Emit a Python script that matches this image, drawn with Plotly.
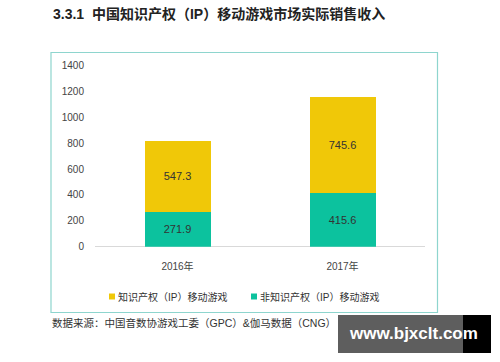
import plotly.graph_objects as go

W, H = 500, 362

categories = ["2016年", "2017年"]
non_ip_values = [271.9, 415.6]
ip_values = [547.3, 745.6]
series_names = ["非知识产权（IP）移动游戏", "知识产权（IP）移动游戏"]
y_ticks = [0, 200, 400, 600, 800, 1000, 1200, 1400]

title_text = "3.3.1  中国知识产权（IP）移动游戏市场实际销售收入"
source_text = "数据来源：中国音数协游戏工委（GPC）&伽马数据（CNG）"
watermark_text = "www.bjxclt.com"

FONT = "Liberation Sans, Arial, Noto Sans CJK SC, sans-serif"
GREEN = "#0CC29E"
YELLOW = "#F0C808"

def px(x):
    return x / W

def py(y):
    return 1 - y / H

fig = go.Figure()
fig.add_trace(go.Bar(
    x=categories, y=non_ip_values, name=series_names[0],
    marker=dict(color=GREEN, line=dict(width=0)),
    texttemplate="%{y:.1f}", textposition="inside", insidetextanchor="middle",
    textfont=dict(size=11, color="#333333", family=FONT),
    showlegend=False,
))
fig.add_trace(go.Bar(
    x=categories, y=ip_values, name=series_names[1],
    marker=dict(color=YELLOW, line=dict(width=0)),
    texttemplate="%{y:.1f}", textposition="inside", insidetextanchor="middle",
    textfont=dict(size=11, color="#333333", family=FONT),
    showlegend=False,
))

# manual legend (small square swatches like the reference)
legend_items = [(series_names[1], YELLOW, 109), (series_names[0], GREEN, 251)]
legend_shapes = []
legend_annos = []
for name, color, x0 in legend_items:
    legend_shapes.append(dict(type="rect", xref="paper", yref="paper",
                              x0=px(x0), x1=px(x0 + 6), y0=py(299.5), y1=py(293.5),
                              line=dict(width=0), fillcolor=color))
    legend_annos.append(dict(text=name, xref="paper", yref="paper",
                             x=px(x0 + 7), y=py(297), xanchor="left", yanchor="middle",
                             showarrow=False,
                             font=dict(size=10, color="#333333", family=FONT)))

fig.update_layout(
    width=W, height=H,
    barmode="stack", bargap=0.6,
    paper_bgcolor="white", plot_bgcolor="white",
    margin=dict(l=0, r=0, t=0, b=0, autoexpand=False),
    font=dict(family=FONT, size=10, color="#333333"),
    showlegend=False,
    xaxis=dict(
        domain=[px(95), px(425)],
        showgrid=False, showline=False, zeroline=False,
        ticks="", ticklabelstandoff=12,
        tickfont=dict(size=10, color="#444444"),
    ),
    yaxis=dict(
        domain=[py(246.7), py(65.7)],
        range=[0, 1400], tickvals=y_ticks,
        showgrid=False, showline=False,
        zeroline=True, zerolinecolor="#D9D9D9", zerolinewidth=1,
        ticks="", ticklabelstandoff=10,
        tickfont=dict(size=10, color="#444444"),
    ),
    shapes=[
        dict(type="rect", xref="paper", yref="paper",
             x0=px(51), x1=px(437.5), y0=py(312.5), y1=py(52.5),
             line=dict(color="#8ED5CE", width=1.2), fillcolor="rgba(0,0,0,0)",
             layer="below"),
        dict(type="rect", xref="paper", yref="paper",
             x0=px(338), x1=px(463), y0=py(353), y1=py(315),
             line=dict(width=0), fillcolor="#5E5E5E"),
        dict(type="rect", xref="paper", yref="paper",
             x0=px(463), x1=px(491), y0=py(353), y1=py(315),
             line=dict(width=0), fillcolor="#000000"),
    ] + legend_shapes,
    annotations=[
        dict(text="<b>" + title_text + "</b>", xref="paper", yref="paper",
             x=px(51), y=py(14), xanchor="left", yanchor="middle", showarrow=False,
             font=dict(size=14, color="#222222", family=FONT)),
        dict(text=source_text, xref="paper", yref="paper",
             x=px(50), y=py(323), xanchor="left", yanchor="middle", showarrow=False,
             font=dict(size=10.5, color="#333333", family=FONT)),
        dict(text="<b>" + watermark_text + "</b>", xref="paper", yref="paper",
             x=px(413), y=py(333), xanchor="center", yanchor="middle", showarrow=False,
             font=dict(size=17, color="white", family=FONT)),
    ] + legend_annos,
)

fig.write_html("out.html",
               config={"displayModeBar": False},
               post_script="document.body.style.margin='0';document.body.style.overflow='hidden';")
